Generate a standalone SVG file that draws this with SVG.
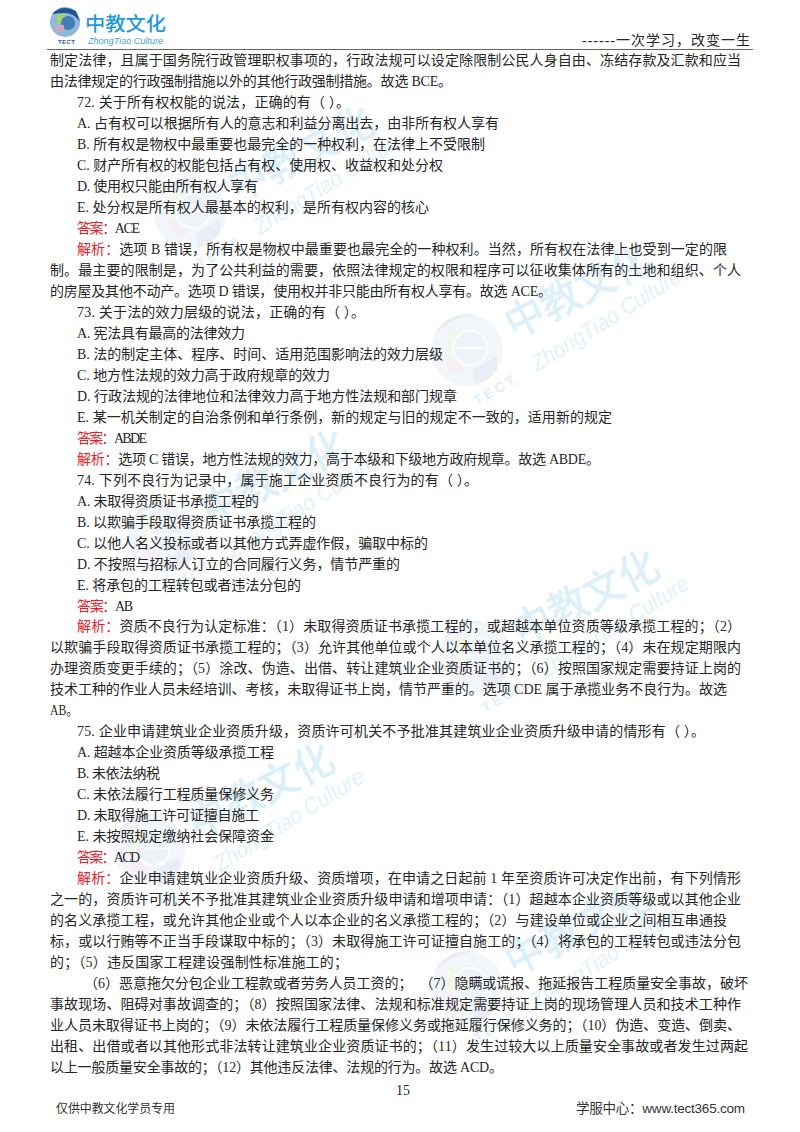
<svg xmlns="http://www.w3.org/2000/svg" width="800" height="1132" viewBox="0 0 800 1132">
<style>
.t{font-family:"Liberation Serif","Noto Sans CJK SC",serif;font-size:14px;fill:#262626;white-space:pre}
.r{fill:#e6202a}
.wz{font-family:"Noto Sans CJK SC",sans-serif;font-weight:500;font-size:42px;fill:#dcf0fa}
.we{font-family:"Liberation Sans",sans-serif;font-style:italic;font-size:23px;fill:#e2f2fb}
.wt{font-family:"Liberation Sans",sans-serif;font-weight:700;font-size:14px;fill:#dff0fa;letter-spacing:3px}
</style>
<defs>
<clipPath id="gc"><circle cx="0" cy="0" r="36"/></clipPath>
<g id="wm">
<g clip-path="url(#gc)">
<circle r="36" fill="#f2f5f9"/>
<path d="M-36-12Q-10-40 20-34L36-10V-36H-36Z" fill="#e9edf3"/>
<rect x="-20" y="-20" width="17" height="26" fill="#f2f7e8"/>
<rect x="-20" y="8" width="16" height="14" fill="#f6f0f4"/>
<path d="M6 20L30 6L30 30L8 36Z" fill="#e9edf5"/>
<circle cx="3" cy="-2" r="17" fill="#edf3f8" stroke="#fcfdfe" stroke-width="2"/>
<path d="M-14-2H20" stroke="#fcfdfe" stroke-width="2"/>
</g>
<text class="wt" x="10" y="56" transform="rotate(-30 10 56)">TECT</text>
<text class="wz" x="47" y="-10" transform="rotate(-27 47 -10)" textLength="158" lengthAdjust="spacingAndGlyphs">中教文化</text>
<text class="we" x="70" y="22" transform="rotate(-32 70 22)" textLength="172" lengthAdjust="spacingAndGlyphs">ZhongTiao Culture</text>
</g>
</defs>
<g id="watermarks">
<use href="#wm" x="190" y="213"/>
<use href="#wm" x="467" y="350"/>
<use href="#wm" x="163" y="537"/>
<use href="#wm" x="475" y="657"/>
<use href="#wm" x="150" y="850"/>
<use href="#wm" x="467" y="987"/>
</g>
<g id="header">
<circle cx="65" cy="22" r="15" fill="#8fb8dc"/>
<path d="M52 14Q62 4 76 11L80 22Q74 12 62 13Z" fill="#20558f"/>
<rect x="57" y="14" width="9" height="10" fill="#a9cf6d"/>
<circle cx="68" cy="23" r="7" fill="#3f7fb5"/>
<rect x="55" y="25" width="9" height="7" fill="#c9a9c0"/>
<text x="58" y="44" font-family="Liberation Sans,sans-serif" font-weight="700" font-size="6" fill="#2d5a86" textLength="17">TECT</text>
<text x="85" y="31" font-family="Noto Sans CJK SC,sans-serif" font-weight="500" font-size="19" fill="#1f9ad8" textLength="81" lengthAdjust="spacingAndGlyphs">中教文化</text>
<text x="88" y="44" font-family="Liberation Sans,sans-serif" font-style="italic" font-size="9" fill="#3f9fd8" textLength="75" lengthAdjust="spacingAndGlyphs">ZhongTiao Culture</text>
<text class="t" x="582" y="45" textLength="168">------一次学习，改变一生</text>
<line x1="47" y1="49.5" x2="753" y2="49.5" stroke="#666" stroke-width="1"/>
</g>
<g id="body">
<text class="t" x="50" y="65" textLength="691">制定法律，且属于国务院行政管理职权事项的，行政法规可以设定除限制公民人身自由、冻结存款及汇款和应当</text>
<text class="t" x="50" y="86" textLength="402">由法律规定的行政强制措施以外的其他行政强制措施。故选 BCE。</text>
<text class="t" x="77" y="107" textLength="273">72. 关于所有权权能的说法，正确的有（ ）。</text>
<text class="t" x="77" y="127.9" textLength="422">A. 占有权可以根据所有人的意志和利益分离出去，由非所有权人享有</text>
<text class="t" x="77" y="148.9" textLength="408">B. 所有权是物权中最重要也最完全的一种权利，在法律上不受限制</text>
<text class="t" x="77" y="169.9" textLength="366">C. 财产所有权的权能包括占有权、使用权、收益权和处分权</text>
<text class="t" x="77" y="190.9" textLength="181">D. 使用权只能由所有权人享有</text>
<text class="t" x="77" y="211.9" textLength="352">E. 处分权是所有权人最基本的权利，是所有权内容的核心</text>
<text class="t" x="77" y="232.8" textLength="63"><tspan class="r">答案：</tspan>ACE</text>
<text class="t" x="77" y="253.8" textLength="650"><tspan class="r">解析：</tspan>选项 B 错误，所有权是物权中最重要也最完全的一种权利。当然，所有权在法律上也受到一定的限</text>
<text class="t" x="50" y="274.8" textLength="691">制。最主要的限制是，为了公共利益的需要，依照法律规定的权限和程序可以征收集体所有的土地和组织、个人</text>
<text class="t" x="50" y="295.8" textLength="502">的房屋及其他不动产。选项 D 错误，使用权并非只能由所有权人享有。故选 ACE。</text>
<text class="t" x="77" y="316.8" textLength="288">73. 关于法的效力层级的说法，正确的有（ ）。</text>
<text class="t" x="77" y="337.7" textLength="168">A. 宪法具有最高的法律效力</text>
<text class="t" x="77" y="358.7" textLength="366">B. 法的制定主体、程序、时间、适用范围影响法的效力层级</text>
<text class="t" x="77" y="379.7" textLength="253">C. 地方性法规的效力高于政府规章的效力</text>
<text class="t" x="77" y="400.7" textLength="380">D. 行政法规的法律地位和法律效力高于地方性法规和部门规章</text>
<text class="t" x="77" y="421.6" textLength="535">E. 某一机关制定的自治条例和单行条例，新的规定与旧的规定不一致的，适用新的规定</text>
<text class="t" x="77" y="442.6" textLength="70"><tspan class="r">答案：</tspan>ABDE</text>
<text class="t" x="77" y="463.6" textLength="523"><tspan class="r">解析：</tspan>选项 C 错误，地方性法规的效力，高于本级和下级地方政府规章。故选 ABDE。</text>
<text class="t" x="77" y="484.6" textLength="401">74. 下列不良行为记录中，属于施工企业资质不良行为的有（ ）。</text>
<text class="t" x="77" y="505.6" textLength="182">A. 未取得资质证书承揽工程的</text>
<text class="t" x="77" y="526.5" textLength="239">B. 以欺骗手段取得资质证书承揽工程的</text>
<text class="t" x="77" y="547.5" textLength="351">C. 以他人名义投标或者以其他方式弄虚作假，骗取中标的</text>
<text class="t" x="77" y="568.5" textLength="323">D. 不按照与招标人订立的合同履行义务，情节严重的</text>
<text class="t" x="77" y="589.5" textLength="224">E. 将承包的工程转包或者违法分包的</text>
<text class="t" x="77" y="610.5" textLength="56"><tspan class="r">答案：</tspan>AB</text>
<text class="t" x="77" y="631.4" textLength="664"><tspan class="r">解析：</tspan>资质不良行为认定标准：（1）未取得资质证书承揽工程的，或超越本单位资质等级承揽工程的；（2）</text>
<text class="t" x="50" y="652.4" textLength="691">以欺骗手段取得资质证书承揽工程的；（3）允许其他单位或个人以本单位名义承揽工程的；（4）未在规定期限内</text>
<text class="t" x="50" y="673.4" textLength="691">办理资质变更手续的；（5）涂改、伪造、出借、转让建筑业企业资质证书的；（6）按照国家规定需要持证上岗的</text>
<text class="t" x="50" y="694.4" textLength="677">技术工种的作业人员未经培训、考核，未取得证书上岗，情节严重的。选项 CDE 属于承揽业务不良行为。故选</text>
<text class="t" x="50" y="715.4" textLength="28" lengthAdjust="spacingAndGlyphs">AB。</text>
<text class="t" x="77" y="736.4" textLength="628">75. 企业申请建筑业企业资质升级，资质许可机关不予批准其建筑业企业资质升级申请的情形有（ ）。</text>
<text class="t" x="77" y="757.3" textLength="197">A. 超越本企业资质等级承揽工程</text>
<text class="t" x="77" y="778.3" textLength="83">B. 未依法纳税</text>
<text class="t" x="77" y="799.3" textLength="197">C. 未依法履行工程质量保修义务</text>
<text class="t" x="77" y="820.3" textLength="182">D. 未取得施工许可证擅自施工</text>
<text class="t" x="77" y="841.3" textLength="197">E. 未按照规定缴纳社会保障资金</text>
<text class="t" x="77" y="862.2" textLength="63"><tspan class="r">答案：</tspan>ACD</text>
<text class="t" x="77" y="883.2" textLength="664"><tspan class="r">解析：</tspan>企业申请建筑业企业资质升级、资质增项，在申请之日起前 1 年至资质许可决定作出前，有下列情形</text>
<text class="t" x="50" y="904.2" textLength="691">之一的，资质许可机关不予批准其建筑业企业资质升级申请和增项申请：（1）超越本企业资质等级或以其他企业</text>
<text class="t" x="50" y="925.2" textLength="677">的名义承揽工程，或允许其他企业或个人以本企业的名义承揽工程的；（2）与建设单位或企业之间相互串通投</text>
<text class="t" x="50" y="946.2" textLength="691">标，或以行贿等不正当手段谋取中标的；（3）未取得施工许可证擅自施工的；（4）将承包的工程转包或违法分包</text>
<text class="t" x="50" y="967.1" textLength="298">的；（5）违反国家工程建设强制性标准施工的；</text>
<text class="t" x="84" y="988.1" textLength="664">（6）恶意拖欠分包企业工程款或者劳务人员工资的；  （7）隐瞒或谎报、拖延报告工程质量安全事故，破坏</text>
<text class="t" x="50" y="1009.1" textLength="691">事故现场、阻碍对事故调查的；（8）按照国家法律、法规和标准规定需要持证上岗的现场管理人员和技术工种作</text>
<text class="t" x="50" y="1030.1" textLength="691">业人员未取得证书上岗的；（9）未依法履行工程质量保修义务或拖延履行保修义务的；（10）伪造、变造、倒卖、</text>
<text class="t" x="50" y="1051.1" textLength="698">出租、出借或者以其他形式非法转让建筑业企业资质证书的；（11）发生过较大以上质量安全事故或者发生过两起</text>
<text class="t" x="50" y="1072" textLength="453">以上一般质量安全事故的；（12）其他违反法律、法规的行为。故选 ACD。</text>
</g>
<g id="footer">
<text class="t" x="396" y="1095">15</text>
<text x="56" y="1113" font-family="Noto Sans CJK SC,sans-serif" font-size="12" fill="#333" textLength="119">仅供中教文化学员专用</text>
<text x="576" y="1113" font-family="Liberation Sans,Noto Sans CJK SC,sans-serif" font-size="13.5" fill="#333" textLength="169">学服中心：www.tect365.com</text>
</g>
</svg>
